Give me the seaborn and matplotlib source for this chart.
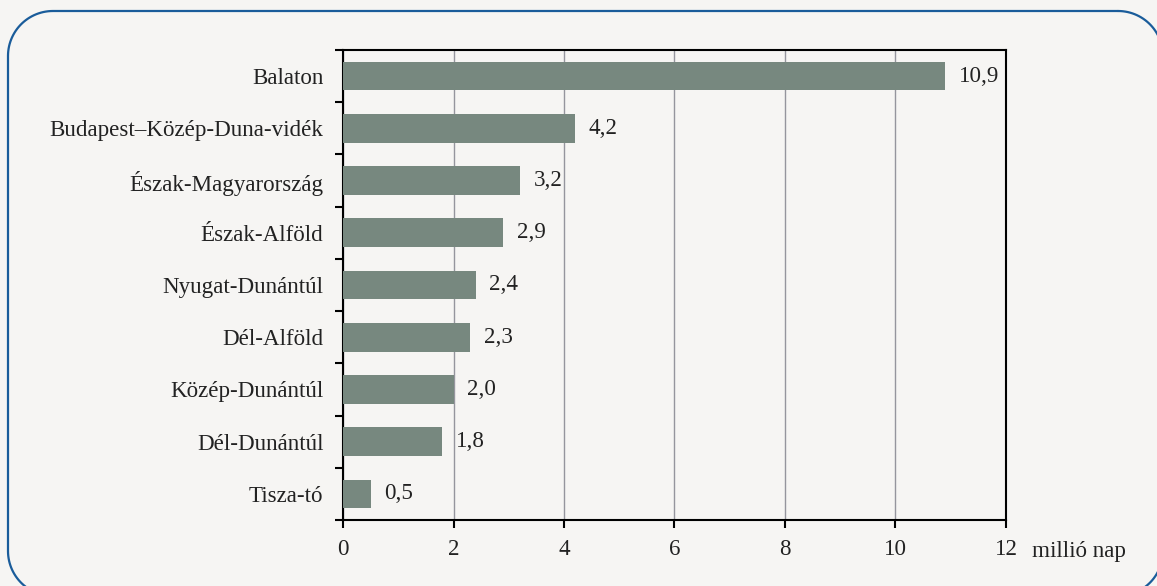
import matplotlib
matplotlib.use("Agg")
import matplotlib.pyplot as plt
import seaborn as sns
import pandas as pd
import numpy as np
from matplotlib.ticker import MultipleLocator

# adatok
regions = ["Balaton", "Budapest–Közép-Duna-vidék", "Észak-Magyarország", "Észak-Alföld",
           "Nyugat-Dunántúl", "Dél-Alföld", "Közép-Dunántúl", "Dél-Dunántúl", "Tisza-tó"]
values = [10.9, 4.2, 3.2, 2.9, 2.4, 2.3, 2.0, 1.8, 0.5]
value_labels = ["10,9", "4,2", "3,2", "2,9", "2,4", "2,3", "2,0", "1,8", "0,5"]
x_ticks = [0, 2, 4, 6, 8, 10, 12]
unit_label = "millió nap"

df = pd.DataFrame({"region": regions, "value": values})

bg = "#f6f5f3"
fs = 16.6
txt = "#222222"
sns.set_theme(style="white")
plt.rcParams["font.family"] = ["Liberation Serif", "DejaVu Serif"]

fig = plt.figure(figsize=(11.57, 5.86), dpi=100, facecolor=bg)

# háttér-tengely a lekerekített kerethez (pixel koordináták)
bg_ax = fig.add_axes([0, 0, 1, 1], zorder=-1)
bg_ax.set_xlim(0, 1157)
bg_ax.set_ylim(586, 0)
bg_ax.axis("off")


def rounded_rect(x0, y0, x1, y1, r, n=30):
    pts = []
    corners = [(x1 - r, y0 + r, -90, 0), (x1 - r, y1 - r, 0, 90),
               (x0 + r, y1 - r, 90, 180), (x0 + r, y0 + r, 180, 270)]
    for cx, cy, a0, a1 in corners:
        a = np.radians(np.linspace(a0, a1, n))
        pts.append(np.column_stack([cx + r * np.cos(a), cy + r * np.sin(a)]))
    pts = np.vstack(pts + [pts[0][:1]])
    return pts[:, 0], pts[:, 1]


fx, fy = rounded_rect(8, 11, 1163, 596, 45)
bg_ax.plot(fx, fy, color="#1a5c9a", linewidth=1.6, clip_on=False)

ax = fig.add_axes([343 / 1157, 1 - 520 / 586, (1006 - 343) / 1157, (520 - 50) / 586])
ax.set_facecolor(bg)

sns.barplot(data=df, y="region", x="value", orient="h", color="#77887f",
            saturation=1, width=0.55, linewidth=0, ax=ax, zorder=3)
ax.bar_label(ax.containers[0], labels=value_labels, padding=10, fontsize=fs, color=txt)

ax.set_xlim(0, 12)
ax.set_ylim(8.5, -0.5)
ax.set_xticks(x_ticks)
ax.set_xticklabels([str(t) for t in x_ticks], fontsize=fs, color=txt)
ax.xaxis.grid(True, color="#95959d", linewidth=1, zorder=0)
ax.set_axisbelow(True)

ax.set_yticks(range(len(regions)))
ax.set_yticklabels(regions, fontsize=fs, color=txt)
ax.yaxis.set_minor_locator(MultipleLocator(1, offset=0.5))
ax.tick_params(axis="y", which="major", length=0, pad=14)
ax.tick_params(axis="y", which="minor", length=6, width=1.5, color="black", left=True)
ax.tick_params(axis="x", length=6, width=1.5, color="black", bottom=True, pad=8)

for s in ax.spines.values():
    s.set_visible(True)
    s.set_color("black")
    s.set_linewidth(1.5)

ax.set_xlabel("")
ax.set_ylabel("")
ax.text(1.039, -0.068, unit_label, transform=ax.transAxes, fontsize=fs,
        color=txt, va="center", ha="left")

fig.savefig("out.png", dpi=100, facecolor=bg)
